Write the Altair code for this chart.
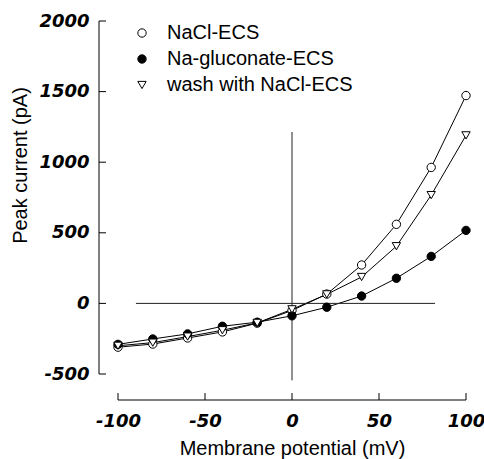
import altair as alt
import pandas as pd

# ---- data ----
voltage = [-100, -80, -60, -40, -20, 0, 20, 40, 60, 80, 100]
nacl = [-310, -288, -245, -202, -140, -50, 66, 272, 560, 963, 1472]
gluconate = [-290, -252, -216, -162, -133, -88, -27, 52, 178, 333, 517]
wash = [-300, -278, -235, -190, -138, -42, 64, 187, 405, 767, 1190]

series_names = ["NaCl-ECS", "Na-gluconate-ECS", "wash with NaCl-ECS"]
x_ticks = [-100, -50, 0, 50, 100]
y_ticks = [-500, 0, 500, 1000, 1500, 2000]

# zero reference lines (extents in data units)
hline_x = [-89.7, 82.2]
vline_y = [-545, 1214]

rows = []
for name, vals in zip(series_names, [nacl, gluconate, wash]):
    for v, c in zip(voltage, vals):
        rows.append({"voltage": v, "current": c, "series": name})
df = pd.DataFrame(rows)

xscale = alt.Scale(domain=[-100, 100], nice=False, zero=False)
yscale = alt.Scale(domain=[-500, 2000], nice=False, zero=False)

tick_font = "DejaVu Sans"
text_font = "Liberation Sans"

xaxis = alt.Axis(values=x_ticks, domain=False, ticks=False, grid=False, offset=26,
                 labelPadding=12, labelFont=tick_font, labelFontWeight="bold",
                 labelFontStyle="italic", labelFontSize=18, labelColor="black",
                 labelExpr="datum.value + ''", labelFlush=False, labelOverlap=False,
                 title="Membrane potential (mV)", titleFont=text_font,
                 titleFontSize=20, titleFontWeight="normal", titleColor="black",
                 titlePadding=8)
yaxis = alt.Axis(values=y_ticks, domain=False, ticks=False, grid=False, offset=19,
                 labelPadding=10, labelFont=tick_font, labelFontWeight="bold",
                 labelFontStyle="italic", labelFontSize=18, labelColor="black",
                 labelExpr="datum.value + ''", labelFlush=False, labelOverlap=False,
                 title="Peak current (pA)", titleFont=text_font,
                 titleFontSize=20, titleFontWeight="normal", titleColor="black",
                 titlePadding=8, titleY=144)

legend = alt.Legend(title=None, orient="none", legendX=14, legendY=2,
                    labelFont=text_font, labelFontSize=20, labelColor="black",
                    symbolStrokeWidth=1, labelLimit=400,
                    rowPadding=6, labelOffset=15, padding=0)

shape = alt.Shape("series:N", scale=alt.Scale(domain=series_names,
                  range=["circle", "circle", "triangle-down"]), legend=legend)
fill = alt.Fill("series:N", scale=alt.Scale(domain=series_names,
                range=["white", "black", "white"]), legend=legend)
stroke = alt.Stroke("series:N", scale=alt.Scale(domain=series_names,
                    range=["black", "black", "black"]), legend=legend)
size = alt.Size("series:N", scale=alt.Scale(domain=series_names,
                range=[70, 70, 85]), legend=legend)

lines = alt.Chart(df).mark_line(color="black", strokeWidth=1).encode(
    x=alt.X("voltage:Q", scale=xscale, axis=xaxis),
    y=alt.Y("current:Q", scale=yscale, axis=yaxis),
    detail="series:N",
)

points = alt.Chart(df).mark_point(strokeWidth=1, opacity=1, filled=False).encode(
    x=alt.X("voltage:Q", scale=xscale),
    y=alt.Y("current:Q", scale=yscale),
    shape=shape, fill=fill, stroke=stroke, size=size,
)

hline = alt.Chart(pd.DataFrame({"voltage": [hline_x[0]], "voltage2": [hline_x[1]], "current": [0]})).mark_rule(
    color="#222", strokeWidth=1).encode(
    x=alt.X("voltage:Q", scale=xscale), x2="voltage2:Q", y=alt.Y("current:Q", scale=yscale))
vline = alt.Chart(pd.DataFrame({"current": [vline_y[0]], "current2": [vline_y[1]], "voltage": [0]})).mark_rule(
    color="#222", strokeWidth=1).encode(
    y=alt.Y("current:Q", scale=yscale), y2="current2:Q", x=alt.X("voltage:Q", scale=xscale))

# detached axis lines with inward ticks
yaxis_line = alt.Chart(pd.DataFrame({"current": [y_ticks[0]], "current2": [y_ticks[-1]]})).mark_rule(
    color="black", strokeWidth=1).encode(
    y=alt.Y("current:Q", scale=yscale), y2="current2:Q", x=alt.value(-19))
ytick_marks = alt.Chart(pd.DataFrame({"current": y_ticks})).mark_rule(
    color="black", strokeWidth=1).encode(
    y=alt.Y("current:Q", scale=yscale), x=alt.value(-19), x2=alt.value(-12))
xaxis_line = alt.Chart(pd.DataFrame({"voltage": [x_ticks[0]], "voltage2": [x_ticks[-1]]})).mark_rule(
    color="black", strokeWidth=1).encode(
    x=alt.X("voltage:Q", scale=xscale), x2="voltage2:Q", y=alt.value(379))
xtick_marks = alt.Chart(pd.DataFrame({"voltage": x_ticks})).mark_rule(
    color="black", strokeWidth=1).encode(
    x=alt.X("voltage:Q", scale=xscale), y=alt.value(379), y2=alt.value(372))

chart = alt.layer(
    lines, hline, vline, yaxis_line, ytick_marks, xaxis_line, xtick_marks, points
).properties(
    width=348, height=353,
    autosize=alt.AutoSizeParams(type="none"),
    padding={"left": 118, "top": 21, "right": 18, "bottom": 85},
    background="white",
).configure_view(stroke=None)

chart.save("out.html", embed_options={"renderer": "svg", "actions": False})
